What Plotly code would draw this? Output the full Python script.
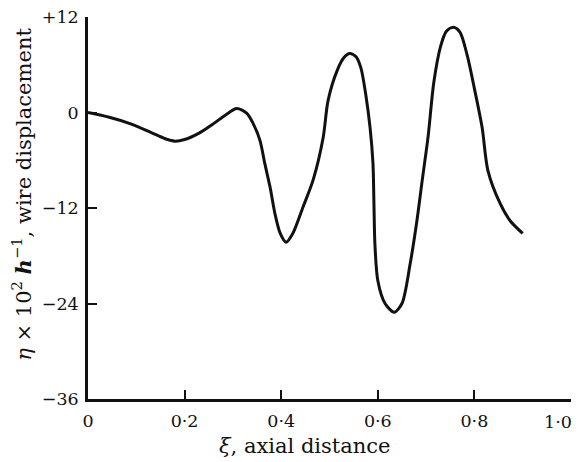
import plotly.graph_objects as go

xi = [0.0, 0.044, 0.087, 0.13, 0.16, 0.18, 0.20, 0.23, 0.26, 0.285, 0.308, 0.329, 0.342, 0.356,
      0.366, 0.377, 0.387, 0.398, 0.410, 0.424, 0.445, 0.466, 0.487, 0.497, 0.516, 0.530, 0.542,
      0.555, 0.565, 0.575, 0.584, 0.590, 0.592, 0.594, 0.600, 0.615, 0.634, 0.650, 0.667, 0.681,
      0.692, 0.704, 0.716, 0.730, 0.742, 0.756, 0.770, 0.785, 0.800, 0.816, 0.828, 0.853, 0.874, 0.90]
eta = [0.0, -0.6, -1.4, -2.5, -3.3, -3.6, -3.4, -2.6, -1.4, -0.3, 0.5, -0.1, -1.4, -3.5,
       -6.4, -9.4, -12.7, -15.2, -16.3, -15.2, -11.9, -8.5, -3.1, 1.5, 5.3, 6.9, 7.4,
       7.0, 5.6, 2.3, -1.9, -6.4, -11.4, -16.5, -21.1, -24.0, -25.1, -24.0, -19.0, -13.6,
       -8.5, -3.1, 3.8, 8.3, 10.2, 10.7, 10.1, 7.2, 3.0, -1.9, -7.3, -11.4, -13.6, -15.2]

x_ticks = [0, 0.2, 0.4, 0.6, 0.8, 1.0]
x_labels = ["0", "0·2", "0·4", "0·6", "0·8", ""]
x_last_label = "1·0"
y_ticks = [12, 0, -12, -24, -36]
y_labels = ["+12", "0", "−12", "−24", "−36"]

tick_font = dict(family="DejaVu Serif, Liberation Serif, serif", size=17.5, color="#111")
title_font = dict(family="DejaVu Serif, Liberation Serif, serif", size=21, color="#111")

fig = go.Figure()
fig.add_trace(go.Scatter(x=xi, y=eta, mode="lines",
                         line=dict(color="#111", width=3, shape="spline", smoothing=0.8),
                         showlegend=False, hoverinfo="skip"))

fig.update_layout(
    width=577, height=454,
    margin=dict(l=80, r=14, t=9, b=63, autoexpand=False),
    paper_bgcolor="white", plot_bgcolor="white",
    font=tick_font,
    xaxis=dict(range=[0, 1.0], tickvals=x_ticks, ticktext=x_labels, tickfont=tick_font,
               ticks="inside", ticklen=9, tickwidth=2, tickcolor="#111",
               showline=True, linecolor="#111", linewidth=2.5, automargin=False,
               ticklabeloverflow="allow",
               showgrid=False, zeroline=False, ticklabelstandoff=4),
    yaxis=dict(range=[-36, 12], tickvals=y_ticks, ticktext=y_labels, tickfont=tick_font,
               ticks="inside", ticklen=9, tickwidth=2, tickcolor="#111",
               showline=True, linecolor="#111", linewidth=2.5, automargin=False,
               ticklabeloverflow="allow",
               showgrid=False, zeroline=False, ticklabelstandoff=3),
    annotations=[
        dict(text=x_last_label, xref="x", yref="paper", x=x_ticks[-1], y=-0.06,
             xanchor="right", yanchor="middle", xshift=3, showarrow=False, font=tick_font),
        dict(text="<i>ξ</i>, axial distance", xref="paper", yref="paper",
             x=0.449, y=-0.123, xanchor="center", yanchor="middle",
             showarrow=False, font=title_font),
        dict(text="<i>η</i> × 10<sup>2</sup> <b><i>h</i></b><sup>−1</sup>, wire displacement",
             xref="paper", yref="paper", x=-0.137, y=0.537, textangle=-90,
             xanchor="center", yanchor="middle", showarrow=False, font=title_font),
    ],
)

fig.write_html("out.html")
